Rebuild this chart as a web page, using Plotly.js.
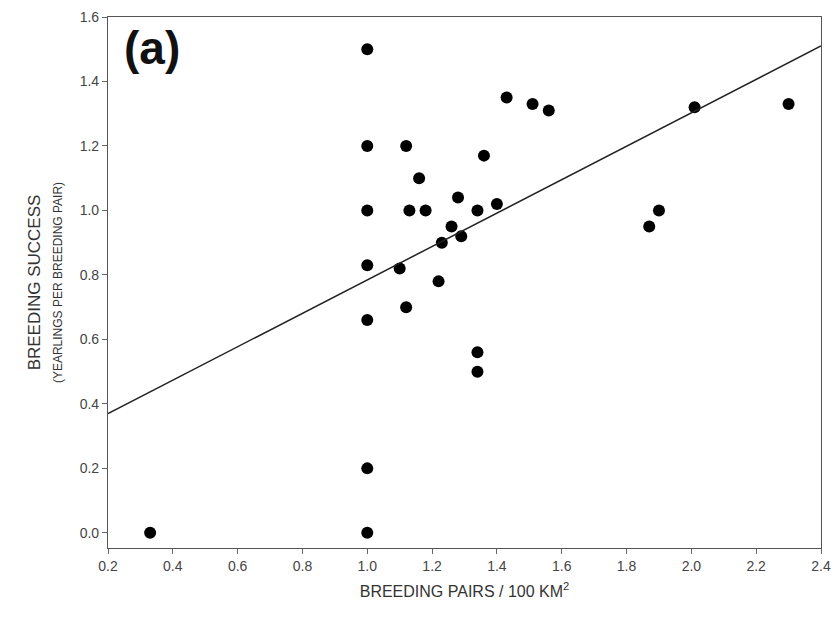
<!DOCTYPE html>
<html>
<head>
<script src="https://cdn.plot.ly/plotly-3.0.1.min.js"></script>
<style>body{margin:0;background:#fff}</style>
</head>
<body>
<div id="chart" style="width:837px;height:622px"></div>
<script>
// breeding pairs per 100 km2 vs breeding success
var pairs = [0.33, 1.0, 1.0, 1.0, 1.0, 1.0, 1.0, 1.0, 1.10, 1.12, 1.12, 1.13, 1.16, 1.18,
             1.22, 1.23, 1.26, 1.28, 1.29, 1.34, 1.34, 1.34, 1.36, 1.40, 1.43, 1.51, 1.56,
             1.87, 1.90, 2.01, 2.30];
var success = [0, 0, 0.2, 0.66, 0.83, 1.0, 1.2, 1.5, 0.82, 0.70, 1.2, 1.0, 1.1, 1.0,
               0.78, 0.90, 0.95, 1.04, 0.92, 1.0, 0.56, 0.50, 1.17, 1.02, 1.35, 1.33, 1.31,
               0.95, 1.0, 1.32, 1.33];
var fitX = [0.2, 2.4];
var fitY = [0.37, 1.51];

var axisFont = { family: 'Liberation Sans, Arial', size: 14, color: '#444' };

var data = [
    { x: pairs, y: success, mode: 'markers', type: 'scatter',
      marker: { color: '#000', size: 12 }, cliponaxis: false },
    { x: fitX, y: fitY, mode: 'lines', type: 'scatter',
      line: { color: '#222', width: 1.5 } }
];

var layout = {
    width: 837, height: 622,
    margin: { l: 108, r: 16, t: 17, b: 74 },
    showlegend: false,
    paper_bgcolor: '#fff', plot_bgcolor: '#fff',
    xaxis: {
        range: [0.2, 2.4], dtick: 0.2, tickformat: '.1f',
        ticks: 'outside', ticklen: 5, tickcolor: '#666',
        showline: true, mirror: true, linecolor: '#555', linewidth: 1.2,
        showgrid: false, zeroline: false, tickfont: axisFont,
        title: { text: 'BREEDING PAIRS / 100 KM<sup>2</sup>', font: { family: 'Liberation Sans, Arial', size: 16, color: '#333' }, standoff: 12 }
    },
    yaxis: {
        range: [-0.047, 1.6], tick0: 0, dtick: 0.2, tickformat: '.1f',
        ticks: 'outside', ticklen: 5, tickcolor: '#666',
        showline: true, mirror: true, linecolor: '#555', linewidth: 1.2,
        showgrid: false, zeroline: false, tickfont: axisFont,
        title: { text: 'BREEDING SUCCESS<br><span style="font-size:12px">(YEARLINGS PER BREEDING PAIR)</span>',
                 font: { family: 'Liberation Sans, Arial', size: 17, color: '#333' }, standoff: 12 }
    },
    annotations: [{
        text: '<b>(a)</b>', xref: 'paper', yref: 'paper', x: 0.02, y: 0.995,
        xanchor: 'left', yanchor: 'top', showarrow: false,
        font: { family: 'Liberation Sans, Arial', size: 46, color: '#111' }
    }]
};

Plotly.newPlot('chart', data, layout, { displayModeBar: false });
</script>
</body>
</html>
